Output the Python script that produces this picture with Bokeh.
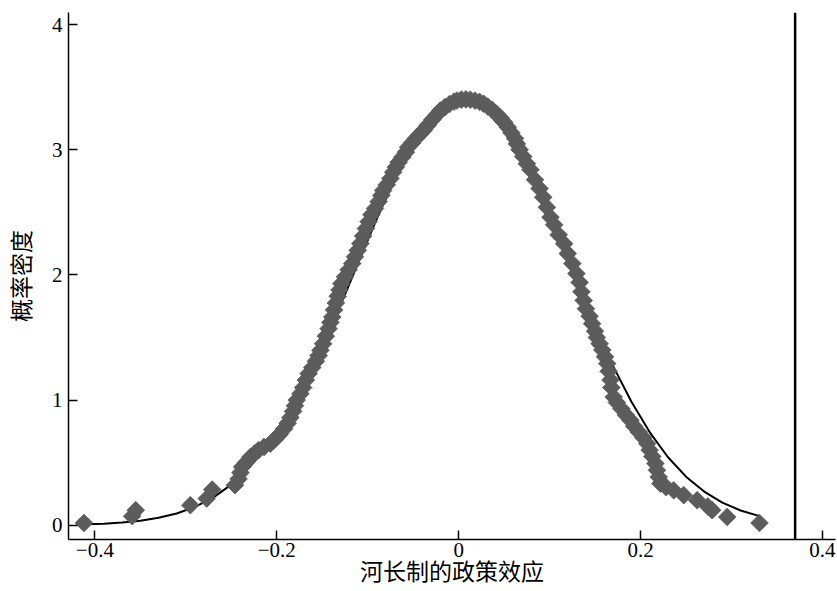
from bokeh.plotting import figure
from bokeh.models import Span, FixedTicker
from bokeh.embed import file_html
from bokeh.resources import INLINE

# ---- data ----
x_ticks = [-0.4, -0.2, 0, 0.2, 0.4]
x_tick_labels = ["\u22120.4", "\u22120.2", "0", "0.2", "0.4"]
y_ticks = [0, 1, 2, 3, 4]
x_label = "河长制的政策效应"
y_label = "概率密度"
ref_line_x = 0.37

# normal-density reference curve (black line)
curve_x = [-0.41, -0.39, -0.37, -0.35, -0.33, -0.31, -0.29, -0.27, -0.25, -0.23,
           -0.21, -0.19, -0.17, -0.15, -0.13, -0.11, -0.09, -0.07, -0.05, -0.03,
           -0.01, 0.01, 0.03, 0.05, 0.07, 0.09, 0.11, 0.13, 0.15, 0.17,
           0.19, 0.21, 0.23, 0.25, 0.27, 0.29, 0.31, 0.33]
curve_y = [0.007, 0.012, 0.021, 0.036, 0.059, 0.094, 0.147, 0.221, 0.324, 0.462,
           0.639, 0.859, 1.122, 1.424, 1.756, 2.103, 2.448, 2.767, 3.039, 3.243,
           3.363, 3.387, 3.314, 3.151, 2.911, 2.612, 2.277, 1.929, 1.587, 1.269,
           0.986, 0.744, 0.545, 0.388, 0.269, 0.181, 0.118, 0.075]

# placebo estimates and their kernel density (grey diamonds)
est_x = [-0.412, -0.359, -0.355, -0.295, -0.277, -0.271,
         -0.246, -0.242, -0.240, -0.238, -0.234, -0.229, -0.224, -0.220, -0.214, -0.207,
         -0.202, -0.197, -0.192, -0.188, -0.185, -0.182, -0.180, -0.178, -0.174, -0.171,
         -0.168, -0.165, -0.161, -0.157, -0.154, -0.152, -0.149, -0.146, -0.143, -0.141,
         -0.139, -0.137, -0.135, -0.133, -0.131, -0.129, -0.125, -0.121, -0.117, -0.114,
         -0.111, -0.108, -0.105, -0.102, -0.099, -0.096, -0.092, -0.088, -0.085, -0.083,
         -0.079, -0.075, -0.072, -0.069, -0.066, -0.062, -0.058, -0.0555, -0.051, -0.047,
         -0.043, -0.0385, -0.034, -0.029, -0.024, -0.0201, -0.015, -0.010, -0.005, -0.0018,
         0.003, 0.008, 0.0129, 0.018, 0.023, 0.0275, 0.032, 0.037, 0.0415, 0.046,
         0.050, 0.054, 0.058, 0.062, 0.064, 0.067, 0.071, 0.075, 0.079, 0.084,
         0.089, 0.093, 0.097, 0.101, 0.105, 0.110, 0.116, 0.120, 0.125, 0.1295,
         0.133, 0.135, 0.1375, 0.140, 0.144, 0.1468, 0.150, 0.152, 0.155, 0.158,
         0.161, 0.1633, 0.165, 0.167, 0.168, 0.1705, 0.174, 0.179, 0.184, 0.1889,
         0.193, 0.198, 0.203, 0.2073, 0.210, 0.213, 0.2164, 0.218, 0.220, 0.2219,
         0.228, 0.2365, 0.2475, 0.2623, 0.2740, 0.2788, 0.2953, 0.3308]
est_y = [0.018, 0.072, 0.120, 0.160, 0.213, 0.285,
         0.320, 0.370, 0.420, 0.466, 0.500, 0.545, 0.575, 0.600, 0.625, 0.652,
         0.685, 0.725, 0.770, 0.815, 0.860, 0.910, 0.955, 1.000, 1.050, 1.100,
         1.160, 1.211, 1.260, 1.310, 1.355, 1.397, 1.450, 1.510, 1.570, 1.620,
         1.663, 1.720, 1.775, 1.830, 1.880, 1.930, 1.985, 2.040, 2.090, 2.145,
         2.196, 2.250, 2.310, 2.370, 2.425, 2.480, 2.530, 2.585, 2.635, 2.675,
         2.720, 2.770, 2.820, 2.861, 2.900, 2.940, 2.980, 3.020, 3.055, 3.090,
         3.120, 3.154, 3.195, 3.240, 3.280, 3.313, 3.340, 3.365, 3.385, 3.393,
         3.400, 3.402, 3.399, 3.392, 3.382, 3.367, 3.345, 3.318, 3.287, 3.255,
         3.220, 3.180, 3.135, 3.090, 3.047, 3.000, 2.945, 2.888, 2.840, 2.760,
         2.690, 2.620, 2.540, 2.461, 2.400, 2.320, 2.249, 2.170, 2.090, 2.010,
         1.940, 1.865, 1.796, 1.730, 1.670, 1.610, 1.550, 1.500, 1.450, 1.400,
         1.345, 1.291, 1.230, 1.160, 1.100, 1.024, 0.980, 0.930, 0.880, 0.838,
         0.790, 0.745, 0.700, 0.652, 0.600, 0.550, 0.493, 0.440, 0.385, 0.333,
         0.305, 0.279, 0.240, 0.200, 0.150, 0.120, 0.066, 0.018]

# ---- figure ----
p = figure(width=837, height=591, output_backend="svg", toolbar_location=None,
           x_range=(-0.429, 0.4144), y_range=(-0.114, 4.096),
           min_border_left=68, min_border_right=2, min_border_top=12, min_border_bottom=52)
p.background_fill_color = "white"
p.border_fill_color = "white"
p.outline_line_color = None
p.xgrid.visible = False
p.ygrid.visible = False

p.line(curve_x, curve_y, line_color="black", line_width=2)
p.scatter(est_x, est_y, marker="square", size=12.5, angle=0.785398,
          fill_color="#5c5c5c", line_color="#5c5c5c", line_width=0.8)

p.add_layout(Span(location=ref_line_x, dimension="height", line_color="black", line_width=2.5))

num_font = "Liberation Serif"
title_font = "Liberation Serif, Noto Sans CJK SC"
for ax in (p.xaxis[0], p.yaxis[0]):
    ax.axis_line_width = 1.5
    ax.axis_line_color = "black"
    ax.major_tick_line_width = 1.5
    ax.major_tick_line_color = "black"
    ax.major_tick_in = 9
    ax.major_tick_out = 0
    ax.minor_tick_line_color = None
    ax.major_label_text_font = num_font
    ax.major_label_text_font_size = "21px"
    ax.major_label_text_color = "black"
    ax.axis_label_text_font = title_font
    ax.axis_label_text_font_size = "23px"
    ax.axis_label_text_font_style = "normal"
    ax.axis_label_text_color = "black"

p.xaxis[0].major_label_standoff = 3
p.yaxis[0].major_label_standoff = 6
p.xaxis[0].axis_label_standoff = 0
p.yaxis[0].axis_label_standoff = 14
p.xaxis[0].ticker = FixedTicker(ticks=x_ticks)
p.xaxis[0].major_label_overrides = {t: l for t, l in zip(x_ticks, x_tick_labels)}
p.yaxis[0].ticker = FixedTicker(ticks=y_ticks)
p.xaxis[0].axis_label = x_label
p.yaxis[0].axis_label = y_label

open("out.html", "w").write(file_html(p, INLINE))
